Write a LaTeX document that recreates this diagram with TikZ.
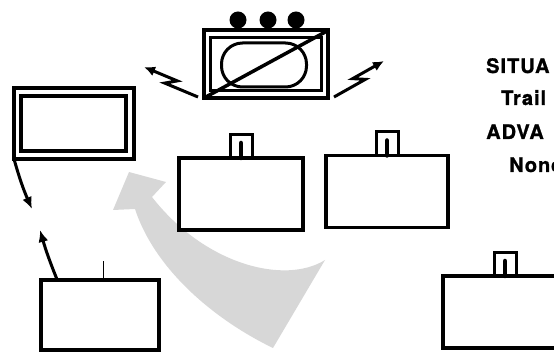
\documentclass[tikz,border=0pt]{standalone}
\usepackage{fontspec}
\usepackage{tikz}
\usetikzlibrary{positioning,arrows.meta,calc}
\newfontfamily\labelfont[LetterSpace=5, BoldFeatures={FakeBold=1.2}]{TeX Gyre Heros}
\definecolor{sweep}{RGB}{215,215,215}

\begin{document}
\begin{tikzpicture}[
    x=1pt, y=-1pt,
    unitbox/.style={rectangle, draw=black, line width=3.6pt, fill=white, minimum width=124pt, minimum height=72pt, inner sep=0pt, outer sep=0pt},
    screen/.style={rectangle, draw=black, line width=4pt, inner sep=0pt, outer sep=0pt},
    plug/.style={rectangle, draw=black, line width=3pt, fill=white, minimum width=22pt, minimum height=23.5pt, inner sep=0pt, outer sep=0pt},
    post/.style={line width=4.5pt, line cap=round},
    knob/.style={circle, fill=black, minimum size=17pt, inner sep=0pt},
    arrow/.style={-{Latex[length=12pt,width=10pt]}, line width=3pt},
    bolt/.style={-{Latex[length=11pt,width=10pt]}, line width=3pt, line join=miter},
    caption/.style={font=\labelfont\bfseries\fontsize{20}{22}\selectfont, anchor=base west, inner sep=0pt}
]
\useasboundingbox (0,0) rectangle (554,352);
\clip (0,0) rectangle (554,352);

% Sweeping arrow (background)
\fill[sweep] (325,260) .. controls (285,285) and (205,265) .. (152,197)
    -- (166,182) -- (129,172) -- (113,210) -- (135,209)
    .. controls (155,270) and (215,320) .. (273,348) -- cycle;

% Console on top
\node[screen, minimum width=124pt, minimum height=67.5pt] (tv) at (266,64.25) {};
\node[screen, line width=3pt, minimum width=111pt, minimum height=52.5pt] (tvInner) at (tv.center) {};
\node[rectangle, draw=black, line width=3pt, rounded corners=21pt, minimum width=85pt, minimum height=44pt] (tvSlot) at (264,65) {};
\draw[line width=3.5pt] (tv.south west) -- (tv.north east);
\foreach \kx [count=\i] in {238,268,296}
    \node[knob] (knob\i) at (\kx,20) {};

% Lightning arrows
\coordinate (boltLs) at (198,97);
\coordinate (boltLe) at (144,67);
\coordinate (boltRs) at (334,97);
\coordinate (boltRe) at (384,61);
\draw[bolt] (boltLs) -- ($(boltLs)!0.58!(boltLe)!4pt!90:(boltLe)$)
    -- ($(boltLs)!0.42!(boltLe)!4pt!-90:(boltLe)$) -- (boltLe);
\draw[bolt] (boltRs) -- ($(boltRs)!0.58!(boltRe)!4pt!-90:(boltRe)$)
    -- ($(boltRs)!0.42!(boltRe)!4pt!90:(boltRe)$) -- (boltRe);

% Monitor on the left
\node[screen, minimum width=120pt, minimum height=71pt] (monitor) at (74,123.5) {};
\node[screen, minimum width=105.5pt, minimum height=55.5pt] (monitorInner) at (73.25,123.75) {};

% Sets with plugs
\node[unitbox] (setA) at (241,194) {};
\node[plug, above=0pt of setA] (plugA) {};
\node[unitbox, minimum width=122pt] (setB) at (387,191.5) {};
\node[plug, above=0pt of setB] (plugB) {};
\node[unitbox] (setE) at (505,312) {};
\node[plug, above=0pt of setE] (plugE) {};
\draw[post] (plugA.south) -- ++(0,-15);
\draw[post] (plugB.south) -- ++(0,-15);
\draw[post] (plugE.south) -- ++(0,-15);

% Set with antenna
\node[unitbox, minimum width=118pt, minimum height=70pt] (setD) at (100.25,315) {};
\draw[line width=1.2pt] ([xshift=3pt]setD.north) -- ++(0,-19);

% Arrows between screen and set
\coordinate (dropTip) at (32,209);
\coordinate (riseTip) at (40,230);
\draw[arrow] (monitor.south west) to[bend right=4] (dropTip);
\draw[arrow] ([xshift=16pt]setD.north west) to[bend left=3] (riseTip);

% Text column
\node[caption] (sitLabel) at (486,73) {SITUA};
\node[caption] (trailLabel) at (501,105) {Trail};
\node[caption] (advLabel) at (486,139) {ADVA};
\node[caption] (noneLabel) at (509,172) {None};
\end{tikzpicture}
\end{document}
